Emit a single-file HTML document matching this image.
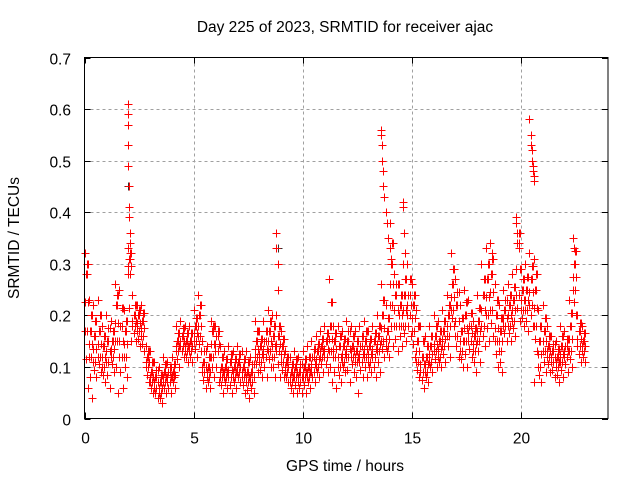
<!DOCTYPE html>
<html><head><meta charset="utf-8"><style>
body{margin:0;background:#fff}
svg text{font-family:"Liberation Sans",sans-serif;fill:#000}
</style></head><body>
<svg id="chart" width="640" height="480" viewBox="0 0 640 480">
<rect width="640" height="480" fill="#fff"/>
<text x="345" y="32" font-size="15.5" text-anchor="middle">Day 225 of 2023, SRMTID for receiver ajac</text>
<text x="345" y="471" font-size="15.5" text-anchor="middle">GPS time / hours</text>
<text transform="translate(19,238) rotate(-90)" font-size="15.5" text-anchor="middle">SRMTID / TECUs</text>
<g id="grid"></g>
<g id="ticks"></g>
<g id="marks" shape-rendering="crispEdges"></g>
<rect x="84.5" y="57.5" width="523.5" height="361" fill="none" stroke="#000" stroke-width="1" shape-rendering="crispEdges"/>
</svg>
<script>
const xTicks=[0,5,10,15,20];
const yTicks=[0,0.1,0.2,0.3,0.4,0.5,0.6,0.7];
const yTickLabels=["0","0.1","0.2","0.3","0.4","0.5","0.6","0.7"];
const hours=[0,0.2,0.4,0.6,0.8,1,1.2,1.4,1.6,1.8,2,2.2,2.4,2.6,2.8,3,3.2,3.4,3.6,3.8,4,4.2,4.4,4.6,4.8,5,5.2,5.4,5.6,5.8,6,6.2,6.4,6.6,6.8,7,7.2,7.4,7.6,7.8,8,8.2,8.4,8.6,8.8,9,9.2,9.4,9.6,9.8,10,10.2,10.4,10.6,10.8,11,11.2,11.4,11.6,11.8,12,12.2,12.4,12.6,12.8,13,13.2,13.4,13.6,13.8,14,14.2,14.4,14.6,14.8,15,15.2,15.4,15.6,15.8,16,16.2,16.4,16.6,16.8,17,17.2,17.4,17.6,17.8,18,18.2,18.4,18.6,18.8,19,19.2,19.4,19.6,19.8,20,20.2,20.4,20.6,20.8,21,21.2,21.4,21.6,21.8,22,22.2,22.4,22.6,22.8];
const hiVals=[0.32,0.23,0.22,0.23,0.18,0.20,0.19,0.26,0.25,0.21,0.33,0.24,0.22,0.22,0.14,0.13,0.11,0.10,0.12,0.11,0.12,0.18,0.19,0.18,0.18,0.21,0.24,0.15,0.14,0.19,0.18,0.14,0.13,0.14,0.13,0.14,0.13,0.13,0.12,0.19,0.17,0.19,0.21,0.20,0.20,0.17,0.13,0.12,0.13,0.12,0.13,0.14,0.15,0.16,0.17,0.18,0.27,0.18,0.18,0.17,0.19,0.18,0.17,0.18,0.19,0.17,0.18,0.20,0.26,0.22,0.38,0.28,0.26,0.30,0.30,0.26,0.21,0.18,0.16,0.18,0.20,0.19,0.21,0.24,0.32,0.27,0.22,0.25,0.23,0.19,0.24,0.30,0.33,0.34,0.26,0.22,0.25,0.26,0.28,0.38,0.29,0.30,0.32,0.31,0.21,0.22,0.18,0.16,0.15,0.18,0.17,0.23,0.35,0.20,0.18];
const upVals=[0.28,0.17,0.16,0.17,0.14,0.15,0.15,0.22,0.18,0.17,0.31,0.20,0.20,0.19,0.12,0.09,0.08,0.07,0.09,0.09,0.09,0.15,0.16,0.15,0.15,0.18,0.20,0.11,0.10,0.17,0.16,0.10,0.10,0.11,0.10,0.11,0.10,0.09,0.09,0.15,0.14,0.15,0.17,0.16,0.16,0.14,0.11,0.09,0.10,0.09,0.10,0.10,0.12,0.13,0.14,0.15,0.18,0.15,0.14,0.14,0.15,0.14,0.13,0.14,0.15,0.14,0.15,0.16,0.20,0.17,0.30,0.24,0.22,0.24,0.24,0.22,0.15,0.12,0.12,0.14,0.16,0.15,0.17,0.20,0.26,0.22,0.17,0.20,0.18,0.16,0.19,0.24,0.27,0.28,0.20,0.17,0.21,0.22,0.23,0.34,0.25,0.25,0.27,0.25,0.15,0.17,0.14,0.13,0.12,0.14,0.14,0.18,0.30,0.17,0.15];
const loVals=[0.17,0.12,0.11,0.12,0.10,0.11,0.12,0.15,0.12,0.12,0.28,0.18,0.17,0.16,0.10,0.07,0.06,0.05,0.07,0.07,0.08,0.13,0.14,0.13,0.13,0.15,0.16,0.09,0.08,0.12,0.13,0.08,0.08,0.08,0.08,0.09,0.08,0.07,0.07,0.12,0.11,0.12,0.13,0.12,0.13,0.11,0.09,0.07,0.08,0.07,0.08,0.08,0.09,0.10,0.12,0.12,0.13,0.12,0.10,0.11,0.12,0.12,0.11,0.11,0.12,0.11,0.12,0.13,0.15,0.14,0.22,0.18,0.18,0.18,0.20,0.17,0.11,0.09,0.09,0.11,0.13,0.12,0.14,0.16,0.21,0.16,0.13,0.15,0.15,0.13,0.15,0.18,0.20,0.21,0.15,0.13,0.18,0.18,0.19,0.24,0.21,0.21,0.22,0.18,0.10,0.13,0.12,0.11,0.10,0.11,0.12,0.13,0.25,0.14,0.13];
const minVals=[0.06,0.04,0.08,0.09,0.07,0.06,0.09,0.05,0.06,0.08,0.15,0.15,0.14,0.13,0.07,0.05,0.04,0.03,0.05,0.05,0.06,0.10,0.12,0.11,0.11,0.12,0.13,0.06,0.06,0.08,0.07,0.05,0.06,0.05,0.06,0.07,0.05,0.04,0.05,0.09,0.08,0.08,0.10,0.08,0.08,0.08,0.07,0.05,0.05,0.05,0.05,0.06,0.07,0.08,0.09,0.09,0.07,0.06,0.07,0.09,0.07,0.09,0.05,0.08,0.08,0.09,0.08,0.09,0.12,0.12,0.14,0.13,0.14,0.15,0.16,0.12,0.08,0.06,0.07,0.09,0.10,0.10,0.11,0.12,0.18,0.12,0.10,0.10,0.12,0.09,0.11,0.14,0.15,0.16,0.10,0.09,0.15,0.15,0.16,0.19,0.18,0.17,0.18,0.13,0.07,0.09,0.09,0.08,0.07,0.08,0.09,0.10,0.20,0.11,0.11];
const spikeHours=[2.0,2.0,2.0,2.0,2.0,2.05,2.05,2.05,2.1,2.1,8.8,8.8,8.85,8.85,13.6,13.6,13.65,13.65,13.7,13.7,13.75,13.8,13.85,13.9,14.0,14.05,14.6,14.6,14.65,14.7,20.4,20.45,20.45,20.5,20.5,20.55,20.55,20.6,20.6,20.6,22.4,22.45,22.5,19.8,19.85,19.9,18.6,18.7];
const spikeVals=[0.61,0.59,0.57,0.53,0.49,0.45,0.41,0.39,0.36,0.34,0.36,0.33,0.30,0.25,0.56,0.55,0.53,0.50,0.48,0.45,0.43,0.40,0.38,0.35,0.33,0.31,0.42,0.41,0.36,0.32,0.58,0.55,0.53,0.52,0.50,0.49,0.48,0.47,0.46,0.07,0.35,0.33,0.30,0.39,0.36,0.33,0.34,0.32];
const blackHours=[2.0,2.0,8.85,19.8];
const blackVals=[0.45,0.53,0.33,0.39];

const L=84.5,R=608,T=57.5,B=418.5;
const xs=h=>L+h*(R-L)/24;
const ys=v=>B-v*(B-T)/0.7;
const NS="http://www.w3.org/2000/svg";
const grid=document.getElementById('grid'),ticks=document.getElementById('ticks'),marks=document.getElementById('marks');
function mk(tag,attrs,parent){const e=document.createElementNS(NS,tag);for(const k in attrs)e.setAttribute(k,attrs[k]);parent.appendChild(e);return e;}
xTicks.forEach(t=>{
  const x=Math.round(xs(t))+0.5;
  if(t>0){const g=mk('line',{x1:x,x2:x,y1:T,y2:B,stroke:'#a0a0a0','stroke-dasharray':'3,3'},grid);
  
  }
  mk('line',{x1:x,x2:x,y1:B,y2:B-6,stroke:'#000'},ticks);
  mk('line',{x1:x,x2:x,y1:T,y2:T+6,stroke:'#000'},ticks);
  const tx=mk('text',{x:x,y:B+25,'font-size':15.5,'text-anchor':'middle'},ticks);
  tx.textContent=t;
  
  
});
yTicks.forEach((t,i)=>{
  const y=Math.round(ys(t))+0.5;
  if(t>0&&t<0.7){const g=mk('line',{x1:L,x2:R,y1:y,y2:y,stroke:'#a0a0a0','stroke-dasharray':'3,3'},grid);
  
  }
  mk('line',{x1:L,x2:L+6,y1:y,y2:y,stroke:'#000'},ticks);
  mk('line',{x1:R,x2:R-6,y1:y,y2:y,stroke:'#000'},ticks);
  const tx=mk('text',{x:71,y:y+6,'font-size':15.5,'text-anchor':'end'},ticks);
  tx.textContent=yTickLabels[i];
  
  
});
function plus(h,v,color){
  const x=Math.round(xs(h))+0.5,y=Math.round(ys(v))+0.5;
  const p=mk('path',{d:`M${x-4},${y}H${x+4}M${x},${y-4}V${y+4}`,stroke:color,'stroke-width':1.3,fill:'none'},marks);
  
  
}
blackHours.forEach((h,i)=>plus(h,blackVals[i],'#303030'));
hours.forEach((h,i)=>{
  const a=hiVals[i],b=upVals[i],c=loVals[i],d=minVals[i];
  plus(h,a,'#ff0000');
  plus(h+0.05,b,'#ff0000');
  plus(h+0.1,c,'#ff0000');
  plus(h+0.15,d,'#ff0000');
  plus(h+0.1,(a+b)/2,'#ff0000');
  plus(h,(b+c)/2,'#ff0000');
  plus(h+0.15,(b+c)/2,'#ff0000');
  plus(h+0.05,(c+d)/2,'#ff0000');
  plus(h+0.15,(a+b)/2,'#ff0000');
  plus(h,c,'#ff0000');
  plus(h+0.1,b,'#ff0000');
});
spikeHours.forEach((h,i)=>plus(h,spikeVals[i],'#ff0000'));
</script>
</body></html>
